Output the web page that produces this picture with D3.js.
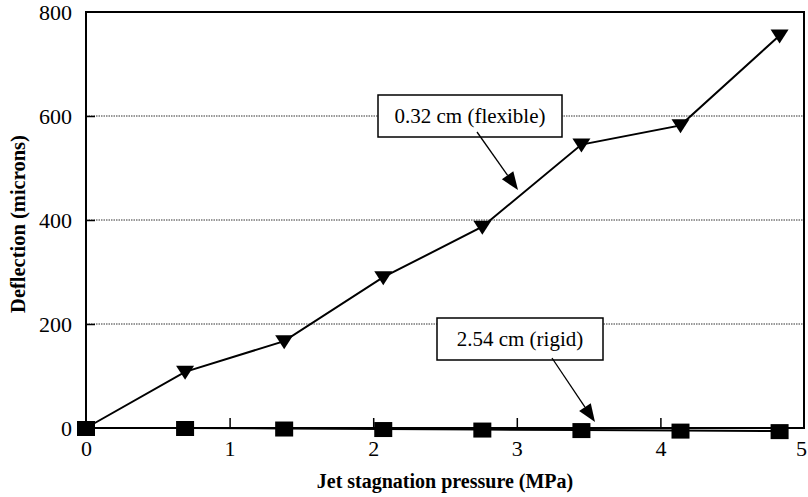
<!DOCTYPE html>
<html><head><meta charset="utf-8">
<script src="https://cdn.jsdelivr.net/npm/d3@7"></script>
<style>body{margin:0;background:#fff}svg{display:block}</style>
</head><body>
<svg id="c" width="808" height="497"></svg>
<script>
const pressure = [0, 0.69, 1.38, 2.07, 2.76, 3.45, 4.14, 4.83];
const flexible = [0, 108, 167, 290, 387, 545, 582, 755];
const rigid = [0, 0, -1, -2, -3, -4, -5, -6];
const xTicks = [0, 1, 2, 3, 4, 5];
const yTicks = [0, 200, 400, 600, 800];
const gridVals = [200, 400, 600];
const labelFlex = "0.32 cm (flexible)";
const labelRigid = "2.54 cm (rigid)";
const xTitle = "Jet stagnation pressure (MPa)";
const yTitle = "Deflection (microns)";

const FONT = '"Liberation Serif"';
const svg = d3.select("#c");
const L = 86, R = 804, T = 12, B = 428;
const x = d3.scaleLinear().domain([0, 5]).range([L, R]);
const y = d3.scaleLinear().domain([0, 800]).range([B, T]);

// grid
svg.selectAll(".grid").data(gridVals).enter().append("line")
  .attr("x1", L).attr("x2", R).attr("y1", d => y(d)).attr("y2", d => y(d))
  .attr("stroke", "#333").attr("stroke-width", 1).attr("stroke-dasharray", "1.5,1");

// frame
svg.append("rect").attr("x", L).attr("y", T).attr("width", R - L).attr("height", B - T)
  .attr("fill", "none").attr("stroke", "#000").attr("stroke-width", 2);

// axes
const xAxis = svg.append("g").attr("transform", `translate(0,${B})`)
  .call(d3.axisBottom(x).tickValues(xTicks).tickSize(-10).tickPadding(12).tickFormat(d3.format("d")));
const yAxis = svg.append("g").attr("transform", `translate(${L},0)`)
  .call(d3.axisLeft(y).tickValues(yTicks).tickSize(-9).tickPadding(14).tickFormat(d3.format("d")));
[xAxis, yAxis].forEach(a => {
  a.attr("font-family", null);
  a.select(".domain").remove();
  a.selectAll(".tick line").attr("stroke", "#000").attr("stroke-width", 1.5);
  a.selectAll("text").style("font-family", FONT).attr("font-size", 22).attr("fill", "#000");
});
xAxis.selectAll(".tick").filter(d => d === 0 || d === 5).select("line").remove();
xAxis.selectAll(".tick").filter(d => d === 5).select("text").attr("dx", -3);
yAxis.selectAll(".tick").filter(d => d === 0 || d === 800).select("line").remove();
yAxis.selectAll("text").attr("dy", "0.35em");

// lines
const lineF = d3.line().x((d, i) => x(pressure[i])).y(d => y(d));
svg.append("path").datum(rigid).attr("d", lineF).attr("fill", "none").attr("stroke", "#000").attr("stroke-width", 2);
svg.append("path").datum(flexible).attr("d", lineF).attr("fill", "none").attr("stroke", "#000").attr("stroke-width", 2);

// markers
svg.selectAll(".sq").data(rigid).enter().append("rect")
  .attr("x", (d, i) => x(pressure[i]) - 9).attr("y", d => y(d) - 7)
  .attr("width", 18).attr("height", 15).attr("fill", "#000");
svg.selectAll(".tri").data(flexible).enter().append("path")
  .attr("d", (d, i) => { const cx = x(pressure[i]), cy = y(d); return `M${cx-9},${cy-6}L${cx+9},${cy-6}L${cx},${cy+8}Z`; })
  .attr("fill", "#000");

// annotations
function annot(text, bx, by, bw, bh, ax1, ay1, ax2, ay2) {
  svg.append("rect").attr("x", bx).attr("y", by).attr("width", bw).attr("height", bh)
    .attr("fill", "#fff").attr("stroke", "#000").attr("stroke-width", 1.5);
  svg.append("text").attr("x", bx + bw / 2).attr("y", by + bh / 2).attr("dy", "0.35em")
    .attr("text-anchor", "middle").style("font-family", FONT).attr("font-size", 21).text(text);
  const ang = Math.atan2(ay2 - ay1, ax2 - ax1), hl = 18, hw = 7;
  const bxp = ax2 - hl * Math.cos(ang), byp = ay2 - hl * Math.sin(ang);
  svg.append("line").attr("x1", ax1).attr("y1", ay1).attr("x2", bxp).attr("y2", byp)
    .attr("stroke", "#000").attr("stroke-width", 1.3);
  const px = -Math.sin(ang) * hw, py = Math.cos(ang) * hw;
  svg.append("path").attr("d", `M${ax2},${ay2}L${bxp+px},${byp+py}L${bxp-px},${byp-py}Z`).attr("fill", "#000");
}
annot(labelFlex, 378, 95, 184, 42, 477, 132, 518, 190);
annot(labelRigid, 437, 318, 166, 42, 552, 358, 595, 422);

// titles
svg.append("text").attr("x", 445).attr("y", 488).attr("text-anchor", "middle")
  .style("font-family", FONT).attr("font-weight", "bold").attr("font-size", 20).text(xTitle);
svg.append("text").attr("transform", `translate(25,224) rotate(-90)`).attr("text-anchor", "middle")
  .style("font-family", FONT).attr("font-weight", "bold").attr("font-size", 20.5).text(yTitle);
</script>
</body></html>
